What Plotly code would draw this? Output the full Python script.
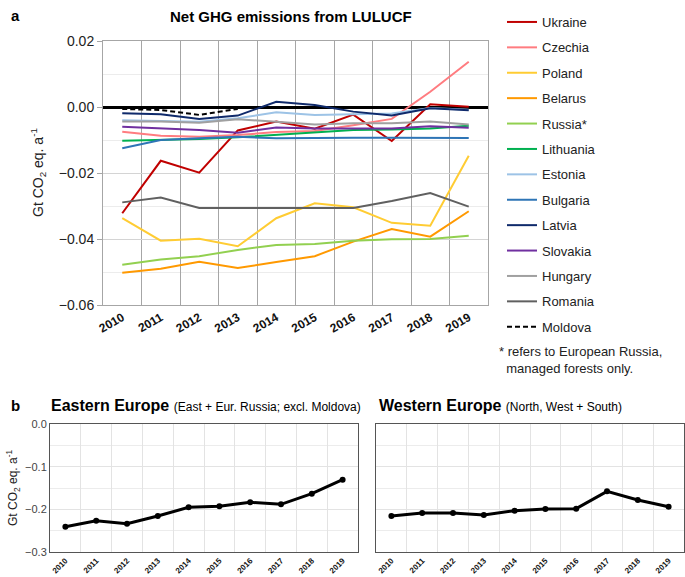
import plotly.graph_objects as go

W, H = 685, 577
years = [str(y) for y in range(2010, 2020)]

countries = ["Ukraine", "Czechia", "Poland", "Belarus", "Russia*", "Lithuania", "Estonia",
             "Bulgaria", "Latvia", "Slovakia", "Hungary", "Romania", "Moldova"]

ukraine   = [-0.0322, -0.0163, -0.0199, -0.0071, -0.0044, -0.0066, -0.0023, -0.0103, 0.0008, 0.0001]
czechia   = [-0.0075, -0.0087, -0.0090, -0.0085, -0.0076, -0.0073, -0.0055, -0.0036, 0.0046, 0.0137]
poland    = [-0.0337, -0.0405, -0.0399, -0.0422, -0.0337, -0.0292, -0.0304, -0.0351, -0.0360, -0.0148]
belarus   = [-0.0502, -0.0490, -0.0469, -0.0488, -0.0470, -0.0452, -0.0408, -0.0370, -0.0393, -0.0316]
russia    = [-0.0478, -0.0462, -0.0452, -0.0433, -0.0418, -0.0415, -0.0405, -0.0401, -0.0400, -0.0390]
lithuania = [-0.0102, -0.0100, -0.0097, -0.0092, -0.0085, -0.0077, -0.0070, -0.0068, -0.0065, -0.0057]
estonia   = [-0.0040, -0.0042, -0.0045, -0.0034, -0.0016, -0.0024, -0.0021, -0.0020, -0.0003, -0.0008]
bulgaria  = [-0.0125, -0.0100, -0.0095, -0.0090, -0.0095, -0.0093, -0.0093, -0.0093, -0.0094, -0.0094]
latvia    = [-0.0019, -0.0022, -0.0036, -0.0026, 0.0016, 0.0006, -0.0014, -0.0026, -0.0004, -0.0010]
slovakia  = [-0.0060, -0.0064, -0.0070, -0.0078, -0.0062, -0.0065, -0.0065, -0.0065, -0.0058, -0.0063]
hungary   = [-0.0044, -0.0044, -0.0048, -0.0037, -0.0045, -0.0053, -0.0049, -0.0049, -0.0044, -0.0053]
romania   = [-0.0289, -0.0274, -0.0306, -0.0306, -0.0306, -0.0306, -0.0306, -0.0285, -0.0261, -0.0302]
moldova   = [-0.0006, -0.0009, -0.0024, -0.0006, None, None, None, None, None, None]

series = [ukraine, czechia, poland, belarus, russia, lithuania, estonia,
          bulgaria, latvia, slovakia, hungary, romania, moldova]
colors = ["#c00000", "#ff7c80", "#ffcc33", "#ff9900", "#92d050", "#00b050", "#9dc3e6",
          "#2e75b6", "#0f2a6b", "#7030a0", "#a0a0a0", "#606060", "#000000"]

eastern = [-0.2406, -0.2266, -0.2336, -0.2156, -0.1953, -0.1930, -0.1836, -0.1883, -0.1633, -0.1305]
western = [-0.2156, -0.2086, -0.2086, -0.2133, -0.2031, -0.1992, -0.1984, -0.1578, -0.1781, -0.1938]

FONT = "Liberation Sans, Arial, sans-serif"

def px(x):
    return x / W

def py(y):
    return 1 - y / H

fig = go.Figure()

for name, vals, col in zip(countries, series, colors):
    fig.add_trace(go.Scatter(
        x=years, y=vals, mode="lines", name=name, legendgroup=name,
        line=dict(color=col, width=2, dash="5px,3px" if name == "Moldova" else "solid"),
        xaxis="x", yaxis="y", connectgaps=False))

fig.add_trace(go.Scatter(x=years, y=eastern, mode="lines+markers", showlegend=False,
                         line=dict(color="black", width=3), marker=dict(color="black", size=6),
                         xaxis="x2", yaxis="y2"))
fig.add_trace(go.Scatter(x=years, y=western, mode="lines+markers", showlegend=False,
                         line=dict(color="black", width=3), marker=dict(color="black", size=6),
                         xaxis="x3", yaxis="y3"))

top_dom_x = [px(103), px(488)]
top_dom_y = [py(305), py(41)]
bl_dom_x = [px(50), px(358)]
br_dom_x = [px(376), px(684)]
b_dom_y = [py(552), py(424)]

fig.update_layout(
    width=W, height=H,
    margin=dict(l=0, r=0, t=0, b=0, autoexpand=False),
    paper_bgcolor="white", plot_bgcolor="white",
    font=dict(family=FONT, color="#222"),
    showlegend=True,
    legend=dict(x=px(502), y=py(7), xanchor="left", yanchor="top",
                font=dict(size=13, family=FONT, color="#222"),
                tracegroupgap=5.5, itemwidth=30, bgcolor="rgba(0,0,0,0)"),
    xaxis=dict(domain=top_dom_x, anchor="y", type="category", range=[-0.5, 9.5],
               automargin=False,
               tickson="boundaries", showgrid=True, gridcolor="#a6a6a6", gridwidth=1,
               ticks="", tickangle=-30,
               tickfont=dict(size=12, family=FONT, color="#111", weight="bold"),
               showline=True, linecolor="#a6a6a6", mirror=True),
    yaxis=dict(domain=top_dom_y, anchor="x", range=[-0.06, 0.02], dtick=0.02,
               automargin=False,
               tickformat=".2f", showgrid=True, gridcolor="#d4d4d4",
               minor=dict(dtick=0.01, showgrid=True, gridcolor="#ececec"),
               ticks="outside", ticklen=5, tickcolor="#a6a6a6",
               tickfont=dict(size=14, family=FONT, color="#222"),
               zeroline=True, zerolinecolor="black", zerolinewidth=2.5,
               showline=True, linecolor="#a6a6a6", mirror=True),
    xaxis2=dict(domain=bl_dom_x, anchor="y2", type="category", range=[-0.5, 9.5],
                automargin=False,
                tickson="boundaries", showgrid=True, gridcolor="#e3e3e3", ticks="",
                tickangle=-45, tickfont=dict(size=8, family=FONT, color="#111", weight="bold"),
                showline=True, linecolor="#555", mirror=True),
    yaxis2=dict(domain=b_dom_y, anchor="x2", range=[-0.3, 0], dtick=0.1, tickformat=".1f",
                automargin=False,
                showgrid=True, gridcolor="#e3e3e3",
                minor=dict(dtick=0.05, showgrid=True, gridcolor="#ececec"),
                zeroline=False, ticks="", tickfont=dict(size=11, family=FONT, color="#444"),
                showline=True, linecolor="#555", mirror=True),
    xaxis3=dict(domain=br_dom_x, anchor="y3", type="category", range=[-0.5, 9.5],
                automargin=False,
                tickson="boundaries", showgrid=True, gridcolor="#e3e3e3", ticks="",
                tickangle=-45, tickfont=dict(size=8, family=FONT, color="#111", weight="bold"),
                showline=True, linecolor="#555", mirror=True),
    yaxis3=dict(domain=b_dom_y, anchor="x3", range=[-0.3, 0], dtick=0.1,
                automargin=False,
                showticklabels=False, showgrid=True, gridcolor="#e3e3e3",
                minor=dict(dtick=0.05, showgrid=True, gridcolor="#ececec"),
                zeroline=False, ticks="",
                showline=True, linecolor="#555", mirror=True),
)

ann = [
    dict(text="<b>a</b>", x=px(9), y=py(16), xanchor="left", yanchor="middle",
         font=dict(size=15, color="black")),
    dict(text="<b>Net GHG emissions from LULUCF</b>", x=px(291), y=py(17),
         xanchor="center", yanchor="middle", font=dict(size=15, color="black")),
    dict(text="Gt CO<sub>2</sub> eq. a<sup>-1</sup>", x=px(38), y=py(173), textangle=-90,
         xanchor="center", yanchor="middle", font=dict(size=14, color="#222")),
    dict(text="* refers to European Russia,<br>&nbsp;&nbsp;managed forests only.",
         x=px(497), y=py(342), xanchor="left", yanchor="top", align="left",
         font=dict(size=13, color="#222")),
    dict(text="<b>b</b>", x=px(9), y=py(406), xanchor="left", yanchor="middle",
         font=dict(size=15, color="black")),
    dict(text="<b>Eastern Europe</b> <span style='font-size:12px'>(East + Eur. Russia; excl. Moldova)</span>",
         x=px(49), y=py(405), xanchor="left", yanchor="middle",
         font=dict(size=16, color="black")),
    dict(text="<b>Western Europe</b> <span style='font-size:12px'>(North, West + South)</span>",
         x=px(377), y=py(405), xanchor="left", yanchor="middle",
         font=dict(size=16, color="black")),
    dict(text="Gt CO<sub>2</sub> eq. a<sup>-1</sup>", x=px(13), y=py(488), textangle=-90,
         xanchor="center", yanchor="middle", font=dict(size=12, color="#222")),
]
for a in ann:
    a.update(xref="paper", yref="paper", showarrow=False)
fig.update_layout(annotations=ann)

fig.write_html("out.html", config={"displayModeBar": False},
               post_script="document.body.style.margin='0';document.body.style.overflow='hidden';")
